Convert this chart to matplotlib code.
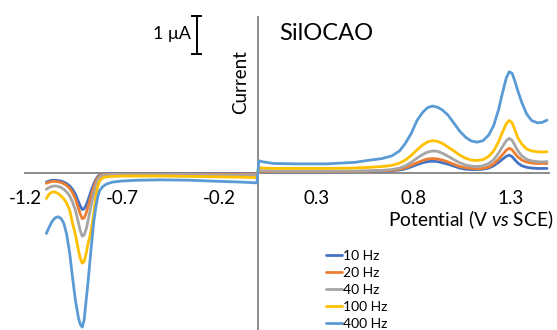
import matplotlib
matplotlib.use("Agg")
import matplotlib.pyplot as plt

plt.rcParams['font.family'] = ['Lato', 'DejaVu Sans']
plt.rcParams['mathtext.fontset'] = 'custom'
plt.rcParams['mathtext.rm'] = 'Lato'
plt.rcParams['mathtext.it'] = 'Lato:italic'

# potential (V vs SCE), cathodic branch then anodic branch
E_neg = [-1.09, -1.075, -1.06, -1.045, -1.03, -1.015, -1.00, -0.985, -0.97,
         -0.955, -0.94, -0.925, -0.915, -0.905, -0.895, -0.885, -0.875, -0.865,
         -0.855, -0.845, -0.835, -0.825, -0.815, -0.80, -0.78, -0.75, -0.70,
         -0.62, -0.50, -0.35, -0.20, -0.08, -0.005]
E_pos = [0.005, 0.03, 0.08, 0.2, 0.35, 0.5, 0.58, 0.64, 0.69, 0.73, 0.76, 0.79,
         0.82, 0.85, 0.875, 0.90, 0.925, 0.95, 0.98, 1.01, 1.04, 1.07, 1.10,
         1.13, 1.16, 1.19, 1.215, 1.24, 1.26, 1.28, 1.295, 1.31, 1.325, 1.34,
         1.36, 1.385, 1.41, 1.44, 1.465, 1.49]

# current (uA)
i10_neg = [-0.24, -0.21, -0.19, -0.19, -0.20, -0.21, -0.24, -0.28, -0.34,
           -0.43, -0.56, -0.75, -0.87, -0.96, -0.94, -0.85, -0.71, -0.56,
           -0.41, -0.28, -0.17, -0.09, -0.05, -0.03, -0.02, -0.02, -0.02,
           -0.02, -0.02, -0.02, -0.02, -0.02, -0.02]
i20_neg = [-0.27, -0.24, -0.22, -0.22, -0.23, -0.25, -0.28, -0.33, -0.40,
           -0.52, -0.68, -0.92, -1.08, -1.20, -1.18, -1.06, -0.88, -0.70,
           -0.52, -0.36, -0.22, -0.12, -0.07, -0.04, -0.03, -0.03, -0.03,
           -0.03, -0.03, -0.03, -0.03, -0.03, -0.03]
i40_neg = [-0.43, -0.38, -0.35, -0.34, -0.35, -0.38, -0.43, -0.50, -0.60,
           -0.76, -0.98, -1.30, -1.52, -1.66, -1.63, -1.48, -1.25, -1.00,
           -0.75, -0.52, -0.32, -0.18, -0.10, -0.06, -0.05, -0.04, -0.04,
           -0.04, -0.04, -0.04, -0.05, -0.05, -0.05]
i100_neg = [-0.67, -0.55, -0.50, -0.50, -0.54, -0.60, -0.68, -0.80, -0.97,
            -1.32, -1.62, -2.02, -2.25, -2.37, -2.32, -2.12, -1.85, -1.65,
            -1.38, -1.02, -0.62, -0.34, -0.20, -0.13, -0.10, -0.09, -0.08,
            -0.08, -0.08, -0.09, -0.10, -0.11, -0.12]
i400_neg = [-1.59, -1.42, -1.27, -1.18, -1.15, -1.19, -1.32, -1.62, -2.10,
            -2.75, -3.35, -3.80, -3.98, -4.05, -3.85, -3.35, -2.85, -2.30,
            -1.75, -1.25, -0.90, -0.62, -0.46, -0.36, -0.29, -0.24, -0.21,
            -0.19, -0.18, -0.19, -0.22, -0.24, -0.26]

i10_pos = [0.04, 0.03, 0.03, 0.03, 0.03, 0.03, 0.04, 0.05, 0.06, 0.08, 0.11,
           0.16, 0.22, 0.27, 0.30, 0.31, 0.30, 0.27, 0.23, 0.18, 0.13, 0.10,
           0.09, 0.09, 0.10, 0.13, 0.19, 0.28, 0.36, 0.44, 0.47, 0.43, 0.34,
           0.26, 0.19, 0.15, 0.13, 0.12, 0.12, 0.12]
i20_pos = [0.05, 0.04, 0.04, 0.04, 0.04, 0.04, 0.05, 0.06, 0.07, 0.10, 0.14,
           0.20, 0.27, 0.33, 0.37, 0.38, 0.37, 0.34, 0.29, 0.23, 0.17, 0.14,
           0.12, 0.11, 0.12, 0.16, 0.24, 0.36, 0.48, 0.60, 0.65, 0.61, 0.51,
           0.42, 0.34, 0.29, 0.26, 0.25, 0.25, 0.25]
i40_pos = [0.07, 0.06, 0.05, 0.05, 0.05, 0.05, 0.06, 0.07, 0.09, 0.13, 0.19,
           0.28, 0.39, 0.49, 0.55, 0.58, 0.57, 0.52, 0.44, 0.35, 0.27, 0.21,
           0.18, 0.17, 0.19, 0.25, 0.35, 0.52, 0.69, 0.85, 0.91, 0.86, 0.72,
           0.58, 0.45, 0.36, 0.32, 0.30, 0.29, 0.30]
i100_pos = [0.14, 0.13, 0.12, 0.12, 0.12, 0.13, 0.15, 0.17, 0.20, 0.26, 0.34,
            0.46, 0.61, 0.74, 0.82, 0.85, 0.83, 0.78, 0.68, 0.58, 0.47, 0.39,
            0.34, 0.33, 0.35, 0.44, 0.58, 0.82, 1.07, 1.30, 1.38, 1.32, 1.12,
            0.92, 0.76, 0.63, 0.58, 0.56, 0.55, 0.56]
i400_pos = [0.32, 0.29, 0.25, 0.24, 0.24, 0.28, 0.34, 0.38, 0.45, 0.58, 0.78,
            1.04, 1.38, 1.60, 1.72, 1.76, 1.73, 1.66, 1.52, 1.31, 1.10, 0.94,
            0.84, 0.81, 0.85, 1.00, 1.25, 1.66, 2.10, 2.50, 2.66, 2.62, 2.40,
            2.15, 1.85, 1.55, 1.38, 1.32, 1.33, 1.39]

labels = ['10 Hz', '20 Hz', '40 Hz', '100 Hz', '400 Hz']
colors = ['#4472C4', '#ED7D31', '#A5A5A5', '#FFC000', '#5B9BD5']
neg = [i10_neg, i20_neg, i40_neg, i100_neg, i400_neg]
pos = [i10_pos, i20_pos, i40_pos, i100_pos, i400_pos]
ticks = [-1.2, -0.7, -0.2, 0.3, 0.8, 1.3]

fig = plt.figure(figsize=(5.57, 3.30), dpi=100)
ax = fig.add_axes([25 / 557, 1 / 330, 524 / 557, 312 / 330])

for lab, col, a, b in zip(labels, colors, neg, pos):
    ax.plot(E_neg + E_pos, a + b, color=col, lw=2.0, label=lab,
            solid_joinstyle='round', solid_capstyle='round')

ax.set_xlim(-1.2, 1.5)
ax.set_ylim(-4.1, 4.1)
for s in ['top', 'right']:
    ax.spines[s].set_visible(False)
ax.spines['left'].set_position(('data', 0))
ax.spines['bottom'].set_position(('data', 0))
for s in ['left', 'bottom']:
    ax.spines[s].set_color('#8c8c8c')
    ax.spines[s].set_linewidth(1.4)
    ax.spines[s].set_zorder(0)
ax.set_xticks(ticks)
ax.set_xticklabels([str(t) for t in ticks])
ax.set_yticks([])
ax.tick_params(axis='x', length=0, pad=12, labelsize=13.5)
ax.patch.set_visible(False)

# scale bar 1 uA
ax.plot([-0.314, -0.314], [3.13, 4.13], color='black', lw=1.4, clip_on=False)
ax.plot([-0.337, -0.291], [4.13, 4.13], color='black', lw=1.4, clip_on=False)
ax.plot([-0.337, -0.291], [3.13, 3.13], color='black', lw=1.4, clip_on=False)
ax.text(-0.345, 3.66, '1 μA', ha='right', va='center', fontsize=13)

ax.text(0.11, 3.66, 'SilOCAO', ha='left', va='center', fontsize=17)
ax.text(-0.09, 2.4, 'Current', rotation=90, ha='center', va='center',
        fontsize=13.5)
fig.text(553 / 557, 1 - 220 / 330, r'Potential (V $\mathit{vs}$ SCE)',
         ha='right', va='center', fontsize=13.8)

fig.legend(loc='upper left', bbox_to_anchor=(326 / 557, 1 - 250 / 330),
           frameon=False, fontsize=10, handlelength=1.15, handletextpad=0.1,
           labelspacing=0.36, borderpad=0, borderaxespad=0)

fig.savefig('out.png', dpi=100)
